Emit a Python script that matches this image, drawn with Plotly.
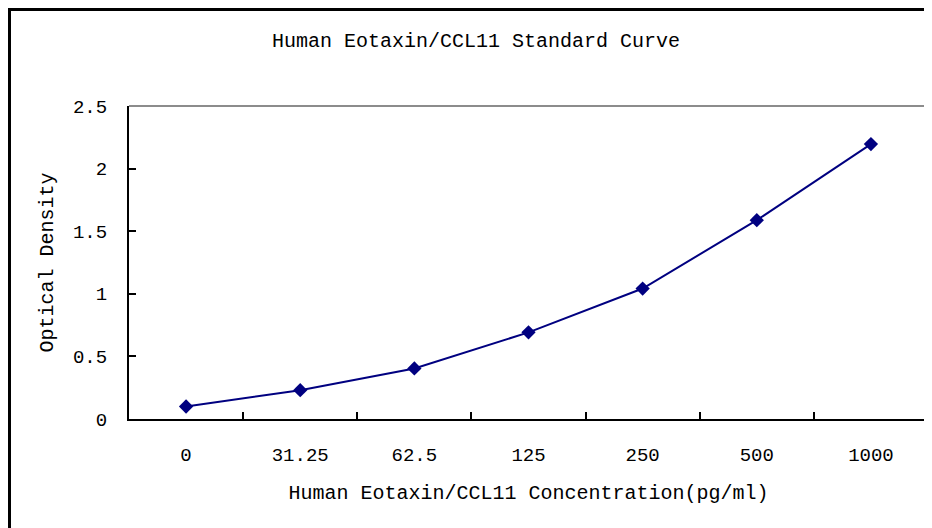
import plotly.graph_objects as go

categories = ["0", "31.25", "62.5", "125", "250", "500", "1000"]
od_values = [0.10, 0.23, 0.404, 0.692, 1.042, 1.588, 2.196]
y_ticks = [0, 0.5, 1, 1.5, 2, 2.5]
y_tick_labels = ["0", "0.5", "1", "1.5", "2", "2.5"]

FONT = "Liberation Mono"
# page has an 8px body margin, so the figure is 8px smaller than the window
W, H = 924, 520
L, R, T, B = 121, 4, 98, 109
pw, ph = W - L - R, H - T - B

fig = go.Figure()
fig.add_trace(go.Scatter(
    x=categories, y=od_values, mode="lines+markers",
    line=dict(color="#000080", width=2),
    marker=dict(symbol="diamond", size=11, color="#000080"),
    showlegend=False, cliponaxis=False,
))

fig.update_layout(
    width=W, height=H, autosize=False,
    margin=dict(l=L, r=R, t=T, b=B),
    paper_bgcolor="white", plot_bgcolor="white",
    font=dict(family=FONT, color="black", size=19),
    title=dict(text="Human Eotaxin/CCL11 Standard Curve",
               x=468 / W, xref="container", xanchor="center",
               y=1 - 32 / H, yref="container", yanchor="middle",
               font=dict(family=FONT, size=20, color="black")),
    xaxis=dict(type="category", range=[-0.5, len(categories) - 0.5],
               showline=True, linecolor="black", linewidth=2,
               ticks="inside", ticklen=7, tickwidth=1.5, tickcolor="black",
               tickson="boundaries", showgrid=False, zeroline=False,
               ticklabelstandoff=17, automargin=False,
               tickfont=dict(family=FONT, size=19),
               title=dict(text="Human Eotaxin/CCL11 Concentration(pg/ml)",
                          font=dict(family=FONT, size=20), standoff=19)),
    yaxis=dict(range=[0, 2.5], tickvals=y_ticks, ticktext=y_tick_labels,
               showline=True, linecolor="black", linewidth=2,
               ticks="inside", ticklen=7, tickwidth=1.5, tickcolor="black",
               showgrid=False, zeroline=False, ticklabelstandoff=16,
               automargin=False,
               tickfont=dict(family=FONT, size=19),
               title=dict(text="Optical Density",
                          font=dict(family=FONT, size=20), standoff=14)),
)

# gray top & right plot borders
fig.add_shape(type="line", xref="paper", yref="paper", x0=0, x1=1, y0=1, y1=1,
              line=dict(color="#8c8c8c", width=2))
fig.add_shape(type="line", xref="paper", yref="paper", x0=1, x1=1, y0=0, y1=1,
              line=dict(color="#8c8c8c", width=2))
# outer chart frame (extends beyond image right/bottom)
fig.add_shape(type="rect", xref="paper", yref="paper",
              x0=(1.5 - L) / pw, x1=(W + 20 - L) / pw,
              y0=-(B + 20) / ph, y1=(H - B - 1.5) / ph,
              line=dict(color="black", width=3), layer="above")

fig.write_html("out.html")
